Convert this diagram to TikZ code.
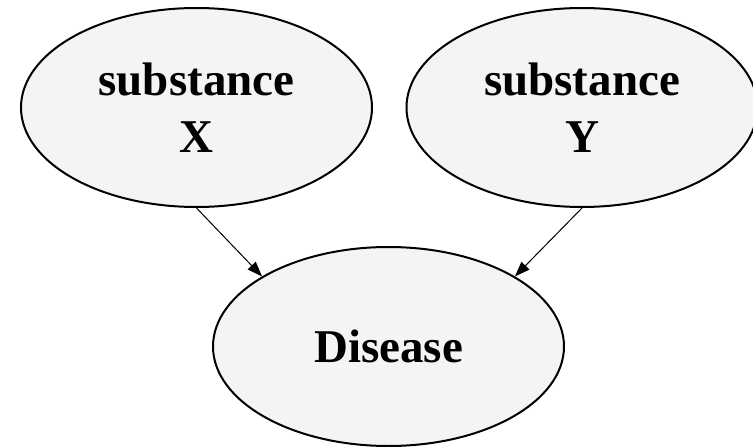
\documentclass[tikz,border=0pt]{standalone}
\usepackage{fontspec}
\setmainfont{Liberation Serif}
\usetikzlibrary{shapes.geometric,arrows.meta}
\definecolor{nodefill}{HTML}{F4F4F4}
\tikzset{
  varnode/.style={ellipse, draw=black, line width=2pt, fill=nodefill,
    minimum width=351pt, minimum height=199pt, inner sep=0pt, align=center,
    font=\bfseries\fontsize{47}{57}\selectfont},
  arr/.style={line width=1pt, -{Triangle[length=15pt,width=11pt]}}
}
\begin{document}
\begin{tikzpicture}[x=1pt,y=-1pt]
\useasboundingbox (0,0) rectangle (753,447);
\node[varnode] (x) at (196.5,107.5) {substance\\X};
\node[varnode] (y) at (582,107.5) {substance\\Y};
\node[varnode] (d) at (388.5,346.5) {Disease};
\draw[arr] (x.south) -- (d.151);
\draw[arr] (y.south) -- (d.29);
\end{tikzpicture}
\end{document}
